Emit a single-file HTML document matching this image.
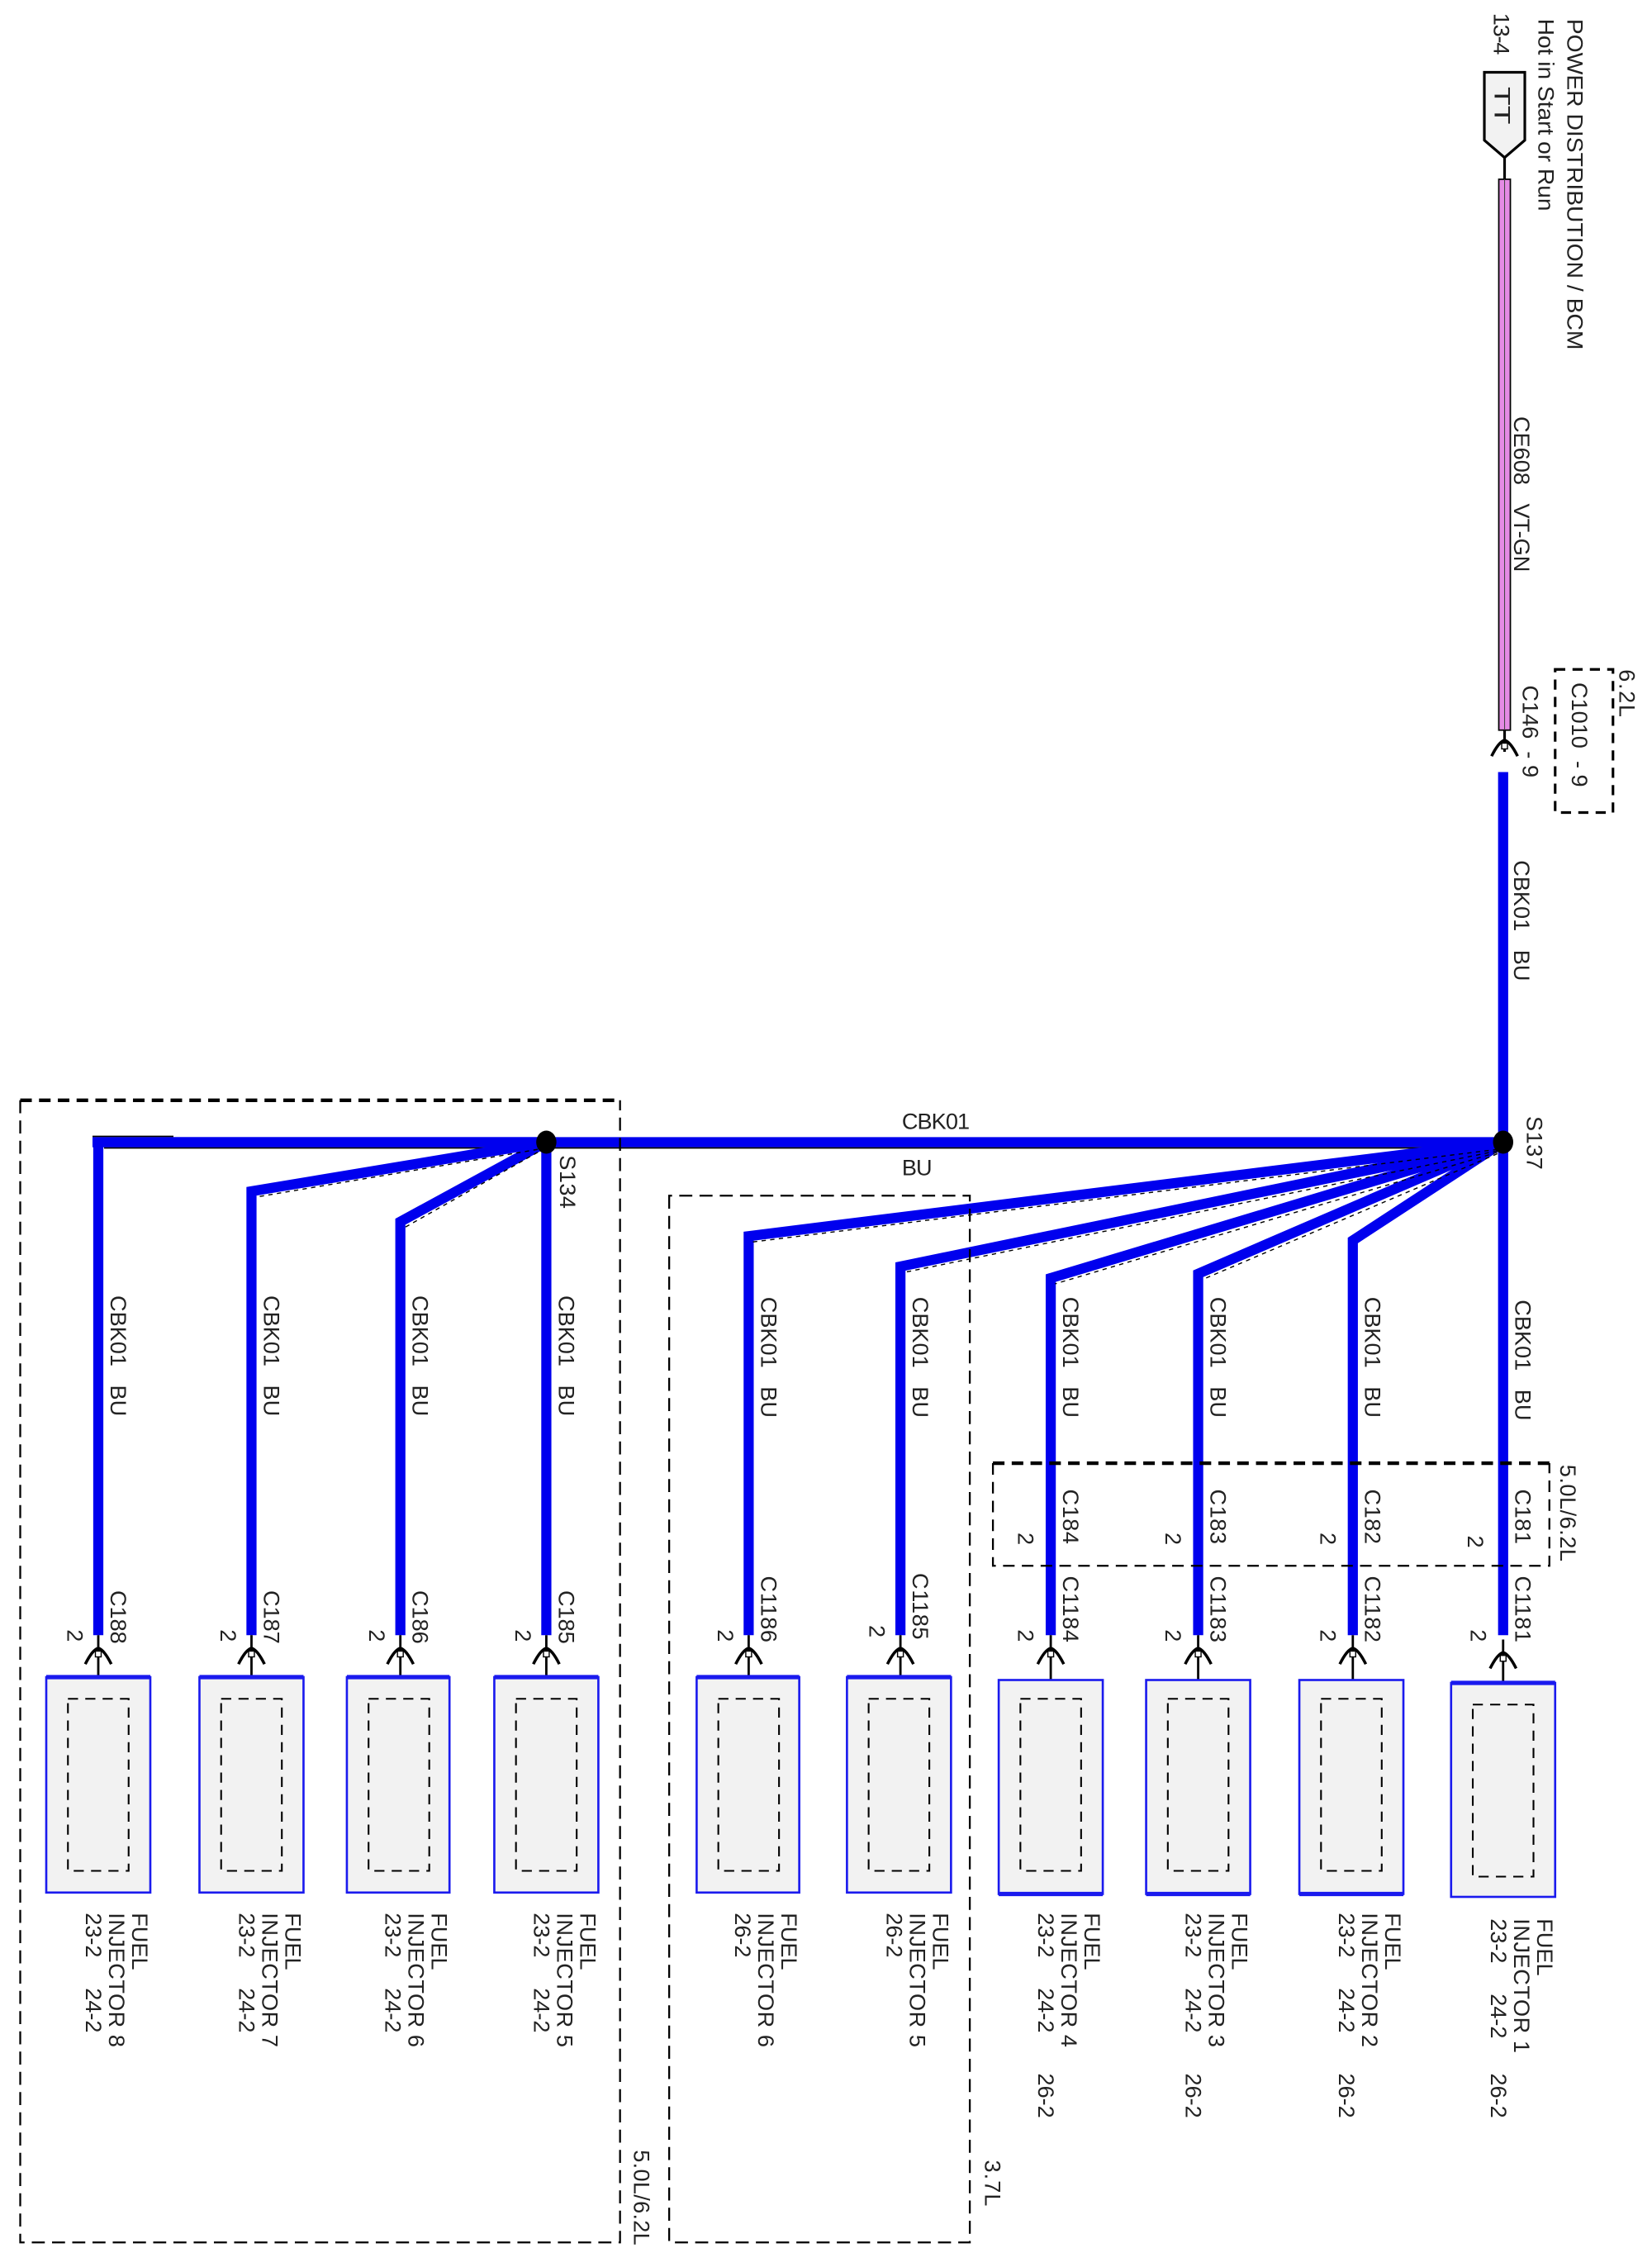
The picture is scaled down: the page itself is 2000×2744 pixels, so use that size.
<!DOCTYPE html>
<html><head><meta charset="utf-8"><style>
html,body{margin:0;padding:0;background:#fff;}
svg{display:block;}
text{font-family:"Liberation Sans",Arial,sans-serif;font-size:15.5px;fill:#222;white-space:pre;}
</style></head><body>
<svg width="2000" height="2744" viewBox="0 0 1143 1568" preserveAspectRatio="none" xmlns="http://www.w3.org/2000/svg">
<rect width="1143" height="1568" fill="#fff"/>

<path d="M1027,50 H1055 V97 L1041,109 L1027,97 Z" fill="#f2f2f2" stroke="#000" stroke-width="1.8"/>
<text transform="translate(1034,60) rotate(90)" font-size="20" textLength="26" lengthAdjust="spacingAndGlyphs">TT</text>
<text transform="translate(1033.5,9) rotate(90)" textLength="29">13-4</text>
<text transform="translate(1084.5,13) rotate(90)" textLength="229" lengthAdjust="spacingAndGlyphs">POWER DISTRIBUTION / BCM</text>
<text transform="translate(1064.5,13) rotate(90)" textLength="133" lengthAdjust="spacingAndGlyphs">Hot in Start or Run</text>
<line x1="1041" y1="109" x2="1041" y2="124" stroke="#000" stroke-width="1.8"/>
<rect x="1037" y="124" width="8" height="381" fill="#e58be5" stroke="#000" stroke-width="1"/>
<line x1="1041" y1="124" x2="1041" y2="505" stroke="#444" stroke-width="0.6"/>
<text transform="translate(1047.5,288) rotate(90)">CE608&#160;&#160;&#160;VT-GN</text>
<line x1="1041" y1="505" x2="1041" y2="520" stroke="#000" stroke-width="1.8"/>
<path d="M1032,523 Q1037,513 1041,512 Q1045,513 1050,523" fill="none" stroke="#000" stroke-width="2"/>
<rect x="1039" y="514" width="4" height="4" fill="#fff" stroke="#000" stroke-width="0.8"/>
<rect x="1076" y="463" width="40" height="99" fill="none" stroke="#000" stroke-width="1.8" stroke-dasharray="7,5"/>
<text transform="translate(1120.5,463) rotate(90)" textLength="33">6.2L</text>
<text transform="translate(1087.5,472) rotate(90)">C1010&#160;&#160;-&#160;9</text>
<text transform="translate(1053.5,474) rotate(90)">C146&#160;&#160;-&#160;9</text>

<line x1="1040" y1="534" x2="1040" y2="1131" stroke="#0000ee" stroke-width="7"/>
<text transform="translate(1047.5,595) rotate(90)">CBK01&#160;&#160;&#160;BU</text>

<line x1="64" y1="790" x2="1040" y2="790" stroke="#0000ee" stroke-width="7"/>
<line x1="72" y1="794" x2="1036" y2="794" stroke="#000" stroke-width="1"/>
<line x1="64" y1="786" x2="120" y2="786" stroke="#000" stroke-width="1"/>
<text x="624" y="781" textLength="47">CBK01</text>
<text x="624" y="813" textLength="21">BU</text>

<g fill="none" stroke="#0000ee" stroke-width="7" stroke-linejoin="miter">
<polyline points="1040,790 518,855 518,1131"/>
<polyline points="1040,790 623,876 623,1131"/>
<polyline points="1040,790 727,884 727,1131"/>
<polyline points="1040,790 829,881 829,1131"/>
<polyline points="1040,790 936,858 936,1131"/>
<polyline points="68,1131 68,790 378,790"/>
<polyline points="378,790 174,824 174,1131"/>
<polyline points="378,790 277,845 277,1131"/>
<polyline points="378,790 378,1131"/>
</g>
<g fill="none" stroke="#000" stroke-width="0.8" stroke-dasharray="3,3">
<line x1="1036" y1="795" x2="521" y2="859"/>
<line x1="1036" y1="796" x2="626" y2="880"/>
<line x1="1036" y1="797" x2="730" y2="888"/>
<line x1="1036" y1="798" x2="832" y2="885"/>
<line x1="372" y1="795" x2="177" y2="828"/>
<line x1="372" y1="797" x2="280" y2="849"/>
</g>
<ellipse cx="1040" cy="790" rx="7" ry="8" fill="#000"/>
<ellipse cx="378" cy="790" rx="7" ry="8" fill="#000"/>
<text transform="translate(1056.5,772) rotate(90)" textLength="37">S137</text>
<text transform="translate(387.5,799) rotate(90)" textLength="37">S134</text>

<g fill="none" stroke="#000">
<path d="M14,761 V1551 H429 V761" stroke-width="1.3" stroke-dasharray="9,5"/>
<line x1="14" y1="761" x2="429" y2="761" stroke-width="2.5" stroke-dasharray="8,5"/>
<path d="M463,827 V1551 H671 V827 Z" stroke-width="1.3" stroke-dasharray="9,5"/>
<path d="M687,1012 V1083 H1072 V1012" stroke-width="1.3" stroke-dasharray="8,5"/>
<line x1="687" y1="1012" x2="1072" y2="1012" stroke-width="2.5" stroke-dasharray="8,5"/>
</g>
<text transform="translate(438.5,1487) rotate(90)" textLength="66">5.0L/6.2L</text>
<text transform="translate(681.5,1494) rotate(90)" textLength="32">3.7L</text>
<text transform="translate(1079.5,1013) rotate(90)" textLength="67">5.0L/6.2L</text>

<g>
<text transform="translate(76.5,896) rotate(90)">CBK01&#160;&#160;&#160;BU</text>
<text transform="translate(182.5,896) rotate(90)">CBK01&#160;&#160;&#160;BU</text>
<text transform="translate(285.5,896) rotate(90)">CBK01&#160;&#160;&#160;BU</text>
<text transform="translate(386.5,896) rotate(90)">CBK01&#160;&#160;&#160;BU</text>
<text transform="translate(526.5,897) rotate(90)">CBK01&#160;&#160;&#160;BU</text>
<text transform="translate(631.5,897) rotate(90)">CBK01&#160;&#160;&#160;BU</text>
<text transform="translate(735.5,897) rotate(90)">CBK01&#160;&#160;&#160;BU</text>
<text transform="translate(837.5,897) rotate(90)">CBK01&#160;&#160;&#160;BU</text>
<text transform="translate(944.5,897) rotate(90)">CBK01&#160;&#160;&#160;BU</text>
<text transform="translate(1048.5,899) rotate(90)">CBK01&#160;&#160;&#160;BU</text>
</g>
<g>
<text transform="translate(76.5,1100) rotate(90)" textLength="37">C188</text>
<text transform="translate(182.5,1100) rotate(90)" textLength="37">C187</text>
<text transform="translate(285.5,1100) rotate(90)" textLength="37">C186</text>
<text transform="translate(386.5,1100) rotate(90)" textLength="37">C185</text>
<text transform="translate(526.5,1090) rotate(90)" textLength="46">C1186</text>
<text transform="translate(631.5,1088) rotate(90)" textLength="46">C1185</text>
<text transform="translate(735.5,1090) rotate(90)" textLength="46">C1184</text>
<text transform="translate(837.5,1090) rotate(90)" textLength="46">C1183</text>
<text transform="translate(944.5,1090) rotate(90)" textLength="46">C1182</text>
<text transform="translate(1048.5,1090) rotate(90)" textLength="46">C1181</text>
<text transform="translate(735.5,1030) rotate(90)" textLength="38">C184</text>
<text transform="translate(837.5,1030) rotate(90)" textLength="38">C183</text>
<text transform="translate(944.5,1030) rotate(90)" textLength="38">C182</text>
<text transform="translate(1048.5,1030) rotate(90)" textLength="38">C181</text>
</g>
<g>
<text transform="translate(46.5,1127) rotate(90)">2</text>
<text transform="translate(152.5,1127) rotate(90)">2</text>
<text transform="translate(255.5,1127) rotate(90)">2</text>
<text transform="translate(356.5,1127) rotate(90)">2</text>
<text transform="translate(496.5,1127) rotate(90)">2</text>
<text transform="translate(601.5,1124) rotate(90)">2</text>
<text transform="translate(704.5,1127) rotate(90)">2</text>
<text transform="translate(806.5,1127) rotate(90)">2</text>
<text transform="translate(913.5,1127) rotate(90)">2</text>
<text transform="translate(1017.5,1127) rotate(90)">2</text>
<text transform="translate(704.5,1060) rotate(90)">2</text>
<text transform="translate(806.5,1060) rotate(90)">2</text>
<text transform="translate(913.5,1060) rotate(90)">2</text>
<text transform="translate(1015.5,1062) rotate(90)">2</text>
</g>

<defs>
<g id="conn">
<line x1="0" y1="0" x2="0" y2="44" stroke="#000" stroke-width="1.6"/>
<path d="M-9,20 Q-4,10 0,9 Q4,10 9,20" fill="none" stroke="#000" stroke-width="2"/>
<rect x="-2" y="11" width="4" height="4" fill="#fff" stroke="#000" stroke-width="0.8"/>
</g>
</defs>
<g>
<use href="#conn" x="68" y="1131"/>
<use href="#conn" x="174" y="1131"/>
<use href="#conn" x="277" y="1131"/>
<use href="#conn" x="378" y="1131"/>
<use href="#conn" x="518" y="1131"/>
<use href="#conn" x="623" y="1131"/>
<use href="#conn" x="727" y="1131"/>
<use href="#conn" x="829" y="1131"/>
<use href="#conn" x="936" y="1131"/>
<use href="#conn" x="1040" y="1134"/>
</g>
<g fill="#f2f2f2" stroke="#1a1aee" stroke-width="1.5">
<rect x="32" y="1160" width="72" height="149"/>
<rect x="138" y="1160" width="72" height="149"/>
<rect x="240" y="1160" width="71" height="149"/>
<rect x="342" y="1160" width="72" height="149"/>
<rect x="482" y="1160" width="71" height="149"/>
<rect x="586" y="1160" width="72" height="149"/>
<rect x="691" y="1162" width="72" height="148"/>
<rect x="793" y="1162" width="72" height="148"/>
<rect x="899" y="1162" width="72" height="148"/>
<rect x="1004" y="1164" width="72" height="148"/>
</g>
<g stroke="#1a1aee" stroke-width="3">
<line x1="32" y1="1160" x2="104" y2="1160"/>
<line x1="138" y1="1160" x2="210" y2="1160"/>
<line x1="240" y1="1160" x2="311" y2="1160"/>
<line x1="342" y1="1160" x2="414" y2="1160"/>
<line x1="482" y1="1160" x2="553" y2="1160"/>
<line x1="586" y1="1160" x2="658" y2="1160"/>
<line x1="691" y1="1310" x2="763" y2="1310"/>
<line x1="793" y1="1310" x2="865" y2="1310"/>
<line x1="899" y1="1310" x2="971" y2="1310"/>
<line x1="1004" y1="1164" x2="1076" y2="1164"/>
</g>
<g fill="none" stroke="#000" stroke-width="1.2" stroke-dasharray="7,5">
<rect x="47" y="1175" width="42" height="119"/>
<rect x="153" y="1175" width="42" height="119"/>
<rect x="255" y="1175" width="42" height="119"/>
<rect x="357" y="1175" width="42" height="119"/>
<rect x="497" y="1175" width="42" height="119"/>
<rect x="601" y="1175" width="42" height="119"/>
<rect x="706" y="1175" width="42" height="119"/>
<rect x="808" y="1175" width="42" height="119"/>
<rect x="914" y="1175" width="42" height="119"/>
<rect x="1019" y="1179" width="42" height="119"/>
</g>

<g>
<text transform="translate(91.5,1323) rotate(90)">FUEL</text>
<text transform="translate(75.5,1323) rotate(90)" textLength="93">INJECTOR 8</text>
<text transform="translate(59.5,1323) rotate(90)">23-2</text>
<text transform="translate(59.5,1375) rotate(90)">24-2</text>

<text transform="translate(197.5,1323) rotate(90)">FUEL</text>
<text transform="translate(181.5,1323) rotate(90)" textLength="93">INJECTOR 7</text>
<text transform="translate(165.5,1323) rotate(90)">23-2</text>
<text transform="translate(165.5,1375) rotate(90)">24-2</text>

<text transform="translate(298.5,1323) rotate(90)">FUEL</text>
<text transform="translate(282.5,1323) rotate(90)" textLength="93">INJECTOR 6</text>
<text transform="translate(266.5,1323) rotate(90)">23-2</text>
<text transform="translate(266.5,1375) rotate(90)">24-2</text>

<text transform="translate(401.5,1323) rotate(90)">FUEL</text>
<text transform="translate(385.5,1323) rotate(90)" textLength="93">INJECTOR 5</text>
<text transform="translate(369.5,1323) rotate(90)">23-2</text>
<text transform="translate(369.5,1375) rotate(90)">24-2</text>

<text transform="translate(540.5,1323) rotate(90)">FUEL</text>
<text transform="translate(524.5,1323) rotate(90)" textLength="93">INJECTOR 6</text>
<text transform="translate(508.5,1323) rotate(90)">26-2</text>

<text transform="translate(645.5,1323) rotate(90)">FUEL</text>
<text transform="translate(629.5,1323) rotate(90)" textLength="93">INJECTOR 5</text>
<text transform="translate(613.5,1323) rotate(90)">26-2</text>

<text transform="translate(750.5,1323) rotate(90)">FUEL</text>
<text transform="translate(734.5,1323) rotate(90)" textLength="93">INJECTOR 4</text>
<text transform="translate(718.5,1323) rotate(90)">23-2</text>
<text transform="translate(718.5,1375) rotate(90)">24-2</text>
<text transform="translate(718.5,1434) rotate(90)">26-2</text>

<text transform="translate(852.5,1323) rotate(90)">FUEL</text>
<text transform="translate(836.5,1323) rotate(90)" textLength="93">INJECTOR 3</text>
<text transform="translate(820.5,1323) rotate(90)">23-2</text>
<text transform="translate(820.5,1375) rotate(90)">24-2</text>
<text transform="translate(820.5,1434) rotate(90)">26-2</text>

<text transform="translate(958.5,1323) rotate(90)">FUEL</text>
<text transform="translate(942.5,1323) rotate(90)" textLength="93">INJECTOR 2</text>
<text transform="translate(926.5,1323) rotate(90)">23-2</text>
<text transform="translate(926.5,1375) rotate(90)">24-2</text>
<text transform="translate(926.5,1434) rotate(90)">26-2</text>

<text transform="translate(1063.5,1327) rotate(90)">FUEL</text>
<text transform="translate(1047.5,1327) rotate(90)" textLength="93">INJECTOR 1</text>
<text transform="translate(1031.5,1327) rotate(90)">23-2</text>
<text transform="translate(1031.5,1379) rotate(90)">24-2</text>
<text transform="translate(1031.5,1434) rotate(90)">26-2</text>
</g>
</svg>
</body></html>
